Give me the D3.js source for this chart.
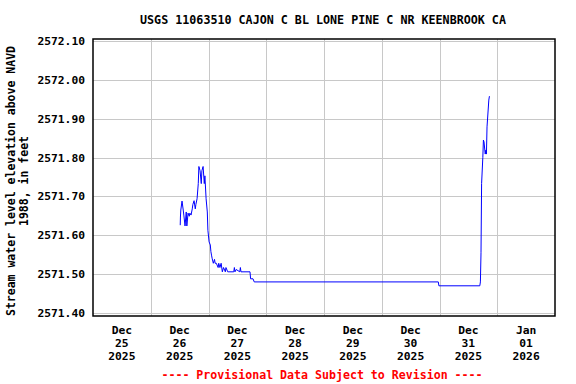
<!DOCTYPE html>
<html>
<head>
<meta charset="utf-8">
<script src="https://cdn.jsdelivr.net/npm/d3@7"></script>
<style>
  body { margin: 0; background: #fff; }
  text { font-family: "DejaVu Sans Mono", monospace; font-weight: bold; }
</style>
</head>
<body>
<div id="chart"></div>
<script>
// width and height
var chart_width = 576;
var chart_height = 384;

// data (local time, feet)
var times = [
  "2025-12-26T12:15", "2025-12-26T12:20", "2025-12-26T12:30", "2025-12-26T13:00", "2025-12-26T13:30",
  "2025-12-26T13:45", "2025-12-26T14:15", "2025-12-26T14:45", "2025-12-26T15:00", "2025-12-26T15:30",
  "2025-12-26T16:00", "2025-12-26T16:15", "2025-12-26T16:45", "2025-12-26T17:15", "2025-12-26T17:30",
  "2025-12-26T18:00", "2025-12-26T18:30", "2025-12-26T18:45", "2025-12-26T19:15", "2025-12-26T19:45",
  "2025-12-26T20:00", "2025-12-26T20:30", "2025-12-26T21:00", "2025-12-26T21:15", "2025-12-26T21:45",
  "2025-12-26T22:15", "2025-12-26T22:30", "2025-12-26T23:00", "2025-12-26T23:30", "2025-12-26T23:45",
  "2025-12-27T00:15", "2025-12-27T00:45", "2025-12-27T01:00", "2025-12-27T01:15", "2025-12-27T01:30",
  "2025-12-27T02:00", "2025-12-27T02:30", "2025-12-27T02:45", "2025-12-27T03:15", "2025-12-27T04:00",
  "2025-12-27T04:15", "2025-12-27T04:45", "2025-12-27T05:15", "2025-12-27T05:45", "2025-12-27T06:15",
  "2025-12-27T07:00", "2025-12-27T07:15", "2025-12-27T08:00", "2025-12-27T08:30", "2025-12-27T10:30",
  "2025-12-27T10:45", "2025-12-27T11:00", "2025-12-27T11:30", "2025-12-27T13:00", "2025-12-27T13:15",
  "2025-12-27T13:30", "2025-12-27T17:15", "2025-12-27T17:30", "2025-12-27T18:30", "2025-12-27T19:00",
  "2025-12-30T23:30", "2025-12-30T23:45", "2025-12-31T16:45", "2025-12-31T17:00", "2025-12-31T17:15",
  "2025-12-31T17:30", "2025-12-31T18:00", "2025-12-31T18:15", "2025-12-31T18:30", "2025-12-31T19:00",
  "2025-12-31T19:15", "2025-12-31T19:30", "2025-12-31T19:45", "2025-12-31T20:30", "2025-12-31T20:45"
];
var levels = [
  2571.626, 2571.647, 2571.665, 2571.688, 2571.665,
  2571.652, 2571.624, 2571.660, 2571.624, 2571.657,
  2571.649, 2571.657, 2571.652, 2571.668, 2571.679,
  2571.689, 2571.668, 2571.679, 2571.694, 2571.733,
  2571.777, 2571.766, 2571.733, 2571.766, 2571.777,
  2571.733, 2571.753, 2571.694, 2571.660, 2571.613,
  2571.583, 2571.575, 2571.558, 2571.549, 2571.541,
  2571.528, 2571.538, 2571.528, 2571.528, 2571.517,
  2571.528, 2571.517, 2571.528, 2571.506, 2571.517,
  2571.506, 2571.517, 2571.506, 2571.506, 2571.506,
  2571.517, 2571.506, 2571.512, 2571.506, 2571.517,
  2571.506, 2571.506, 2571.488, 2571.488, 2571.480,
  2571.480, 2571.470, 2571.470, 2571.480, 2571.555,
  2571.733, 2571.800, 2571.845, 2571.840, 2571.809,
  2571.819, 2571.809, 2571.879, 2571.948, 2571.958
];

var y_ticks = [2571.40, 2571.50, 2571.60, 2571.70, 2571.80, 2571.90, 2572.00, 2572.10];
var day_ticks = ["2025-12-25", "2025-12-26", "2025-12-27", "2025-12-28",
                 "2025-12-29", "2025-12-30", "2025-12-31", "2026-01-01", "2026-01-02"];

var title = "USGS 11063510 CAJON C BL LONE PINE C NR KEENBROOK CA";
var y_title = ["Stream water level elevation above NAVD", "1988, in feet"];
var note = "---- Provisional Data Subject to Revision ----";

var parse_time = d3.timeParse("%Y-%m-%dT%H:%M");
var parse_day = d3.timeParse("%Y-%m-%d");

var data = times.map((t, i) => { return { t: parse_time(t), v: levels[i] }; });
var days = day_ticks.map(parse_day);

// plot frame
var plot_left = 93, plot_right = 555, plot_top = 39, plot_bottom = 316;

var x = d3.scaleTime()
    .domain([days[0], days[days.length - 1]])
    .range([plot_left, plot_right]);

var y = d3.scaleLinear()
    .domain([2571.3923, 2572.1051])
    .range([plot_bottom, plot_top]);

var svg = d3.select("#chart")
    .append("svg")
    .attr("width", chart_width)
    .attr("height", chart_height);

// gridlines
svg.append("g")
    .selectAll("line")
    .data(days.slice(1, -1))
    .enter()
    .append("line")
    .attr("x1", (d) => Math.round(x(d)) + 0.5)
    .attr("x2", (d) => Math.round(x(d)) + 0.5)
    .attr("y1", plot_top)
    .attr("y2", plot_bottom)
    .attr("stroke", "#c8c8c8")
    .attr("stroke-width", 1);

svg.append("g")
    .selectAll("line")
    .data(y_ticks)
    .enter()
    .append("line")
    .attr("x1", plot_left)
    .attr("x2", plot_right)
    .attr("y1", (d) => Math.round(y(d)) + 0.5)
    .attr("y2", (d) => Math.round(y(d)) + 0.5)
    .attr("stroke", "#c8c8c8")
    .attr("stroke-width", 1);

// the series
var line = d3.line()
    .x((d) => x(d.t))
    .y((d) => y(d.v));

svg.append("path")
    .datum(data)
    .attr("d", line)
    .attr("fill", "none")
    .attr("stroke", "#0000ff")
    .attr("stroke-width", 1);

// frame
svg.append("rect")
    .attr("x", plot_left)
    .attr("y", plot_top)
    .attr("width", plot_right - plot_left)
    .attr("height", plot_bottom - plot_top)
    .attr("fill", "none")
    .attr("stroke", "#000")
    .attr("stroke-width", 1.5);

// y tick labels
svg.append("g")
    .selectAll("text")
    .data(y_ticks)
    .enter()
    .append("text")
    .attr("x", 85)
    .attr("y", (d) => y(d) + 4)
    .attr("text-anchor", "end")
    .attr("font-size", "11.3px")
    .text((d) => d3.format(".2f")(d));

// x tick labels, centred on noon of each day
var fmt = [d3.timeFormat("%b"), d3.timeFormat("%d"), d3.timeFormat("%Y")];
var xl = svg.append("g")
    .selectAll("text")
    .data(days.slice(0, -1))
    .enter()
    .append("text")
    .attr("x", (d) => x(d3.timeHour.offset(d, 12)))
    .attr("y", 334)
    .attr("text-anchor", "middle")
    .attr("font-size", "11.3px");

fmt.forEach((f, i) => {
    xl.append("tspan")
        .attr("x", function(d) { return x(d3.timeHour.offset(d, 12)); })
        .attr("dy", i == 0 ? 0 : 13)
        .text((d) => f(d));
});

// title
svg.append("text")
    .attr("x", 323)
    .attr("y", 24)
    .attr("text-anchor", "middle")
    .attr("font-size", "11.7px")
    .text(title);

// y axis title
y_title.forEach((t, i) => {
    svg.append("text")
        .attr("transform", "translate(" + (15 + i * 13) + ",181) rotate(-90)")
        .attr("text-anchor", "middle")
        .attr("font-size", "11.5px")
        .text(t);
});

// provisional note
svg.append("text")
    .attr("x", 322)
    .attr("y", 379)
    .attr("text-anchor", "middle")
    .attr("font-size", "11.6px")
    .attr("fill", "#ff0000")
    .text(note);
</script>
</body>
</html>
